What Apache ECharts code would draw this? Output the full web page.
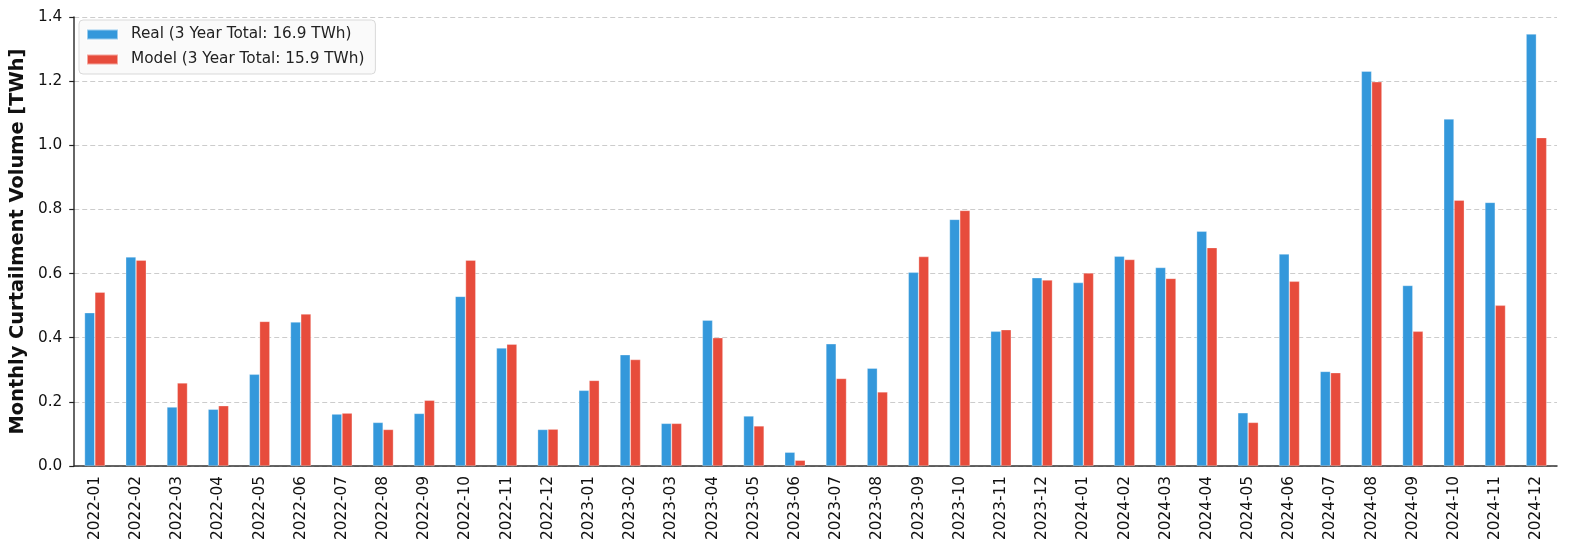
<!DOCTYPE html>
<html>
<head>
<meta charset="utf-8">
<script src="https://cdn.jsdelivr.net/npm/echarts@6/dist/echarts.min.js"></script>
<style>
html,body{margin:0;padding:0;background:#fff;}
#chart{width:1573px;height:554px;}
</style>
</head>
<body>
<div id="chart"></div>
<script>
const categories = [
  "2022-01","2022-02","2022-03","2022-04","2022-05","2022-06","2022-07","2022-08","2022-09","2022-10","2022-11","2022-12",
  "2023-01","2023-02","2023-03","2023-04","2023-05","2023-06","2023-07","2023-08","2023-09","2023-10","2023-11","2023-12",
  "2024-01","2024-02","2024-03","2024-04","2024-05","2024-06","2024-07","2024-08","2024-09","2024-10","2024-11","2024-12"
];
const realValues = [
  0.478,0.652,0.184,0.177,0.286,0.449,0.162,0.136,0.164,0.529,0.368,0.114,
  0.236,0.347,0.133,0.455,0.156,0.043,0.381,0.305,0.604,0.769,0.420,0.587,
  0.572,0.654,0.619,0.732,0.166,0.661,0.295,1.231,0.563,1.082,0.822,1.347
];
const modelValues = [
  0.542,0.642,0.259,0.188,0.451,0.474,0.165,0.114,0.205,0.642,0.380,0.115,
  0.267,0.332,0.133,0.400,0.125,0.018,0.273,0.231,0.653,0.797,0.425,0.580,
  0.602,0.644,0.585,0.681,0.136,0.576,0.291,1.198,0.420,0.829,0.501,1.024
];
const seriesNames = ["Real (3 Year Total: 16.9 TWh)", "Model (3 Year Total: 15.9 TWh)"];
const yAxisTitle = "Monthly Curtailment Volume [TWh]";

const FONT = "DejaVu Sans";
const chart = echarts.init(document.getElementById('chart'), null, {renderer: 'canvas'});
chart.setOption({
  animation: false,
  backgroundColor: '#fff',
  textStyle: {fontFamily: FONT},
  grid: {left: 72, right: 16, top: 17, bottom: 88, containLabel: false},
  legend: {
    left: 79, top: 20, orient: 'vertical',
    icon: 'rect',
    itemWidth: 31, itemHeight: 10, itemGap: 8,
    padding: [6, 11, 6, 7],
    backgroundColor: 'rgba(250,250,250,0.9)',
    borderColor: '#d9d9d9', borderWidth: 1, borderRadius: 4,
    textStyle: {fontFamily: FONT, fontSize: 15.3, color: '#222', padding: [0, 0, 0, 8], lineHeight: 17},
    data: seriesNames
  },
  xAxis: {
    type: 'category',
    data: categories,
    boundaryGap: true,
    axisLine: {lineStyle: {color: '#333', width: 1.5}},
    axisTick: {alignWithLabel: true, length: 5, lineStyle: {color: '#222', width: 1.2}},
    axisLabel: {rotate: 90, fontFamily: FONT, fontSize: 15.3, color: '#111', margin: 10, interval: 0},
    splitLine: {show: false}
  },
  yAxis: {
    type: 'value',
    min: 0, max: 1.4, interval: 0.2,
    name: yAxisTitle,
    nameLocation: 'middle',
    nameGap: 43,
    nameTextStyle: {fontFamily: FONT, fontSize: 19.4, fontWeight: 'bold', color: '#111'},
    axisLine: {show: true, lineStyle: {color: '#333', width: 1.5}},
    axisTick: {show: true, length: 5, lineStyle: {color: '#222', width: 1.2}},
    axisLabel: {fontFamily: FONT, fontSize: 15.3, color: '#111', margin: 12, formatter: v => v.toFixed(1)},
    splitLine: {show: true, lineStyle: {color: '#cccccc', type: [5, 3], width: 1}}
  },
  series: [
    {
      name: seriesNames[0], type: 'bar', data: realValues,
      barWidth: '25%', barGap: '0%',
      itemStyle: {color: '#3498db', borderColor: 'rgba(255,255,255,0.5)', borderWidth: 0.6}
    },
    {
      name: seriesNames[1], type: 'bar', data: modelValues,
      barWidth: '25%', barGap: '0%',
      itemStyle: {color: '#e74c3c', borderColor: 'rgba(255,255,255,0.5)', borderWidth: 0.6}
    }
  ]
});
</script>
</body>
</html>
